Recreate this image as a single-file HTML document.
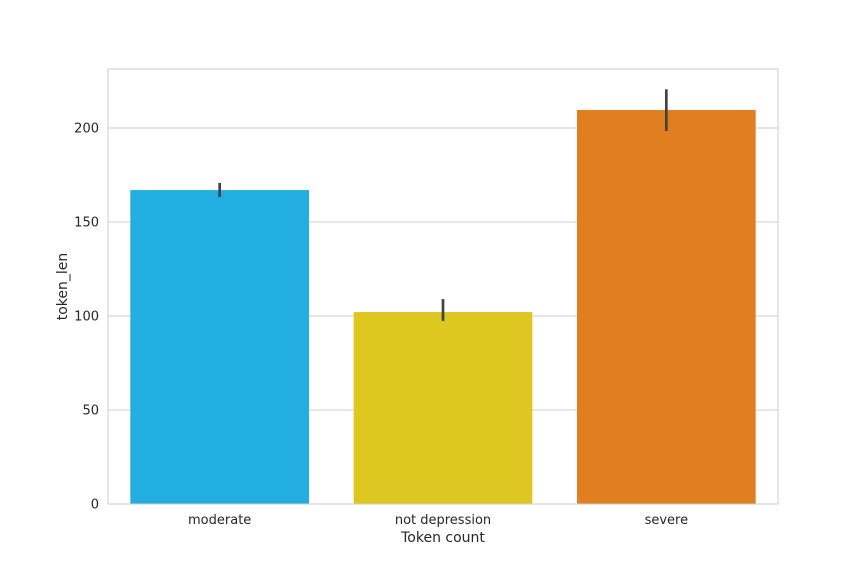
<!DOCTYPE html>
<html><head><meta charset="utf-8"><style>
body{margin:0;background:#fff;}
svg{display:block;font-family:"DejaVu Sans","Liberation Sans",sans-serif;}
</style></head><body>
<svg id="chart" width="864" height="576"></svg>
<script>
const categories=["moderate","not depression","severe"];
const values=[167.0,102.1,209.6];
const errLow=[163.4,97.4,198.5];
const errHigh=[170.8,109.0,220.6];
const yTicks=[0,50,100,150,200];
const colors=["#22aee0","#dfc721","#e07e20"];
const L=108,R=778,T=69,B=504,yMax=231.4;
const ns="http://www.w3.org/2000/svg";
const svg=document.getElementById('chart');
const y=v=>B-(v/yMax)*(B-T);
const band=(R-L)/categories.length;
const xc=i=>L+band*(i+0.5);
function mk(tag,attrs,parent){const e=document.createElementNS(ns,tag);for(const k in attrs)e.setAttribute(k,attrs[k]);(parent||svg).appendChild(e);return e;}
yTicks.forEach(t=>{
  const g=mk('line',{x1:L,x2:R,y1:y(t),y2:y(t),stroke:'#cccccc','stroke-width':1});
  
  
  const tx=mk('text',{x:L-9,y:y(t)+4.5,'text-anchor':'end','font-size':13,fill:'#262626'});
  tx.textContent=t;
  
  
});
categories.forEach((c,i)=>{
  const w=band*0.8;
  const r=mk('rect',{x:xc(i)-w/2,y:y(values[i]),width:w,height:B-y(values[i]),fill:colors[i]});
  
  
  const e=mk('line',{x1:xc(i),x2:xc(i),y1:y(errLow[i]),y2:y(errHigh[i]),stroke:'#424242','stroke-width':2.7});
  
  
  const tx=mk('text',{x:xc(i),y:B+20,'text-anchor':'middle','font-size':13,fill:'#262626'});
  tx.textContent=c;
  
  
});
const fr=mk('rect',{x:L,y:T,width:R-L,height:B-T,fill:'none',stroke:'#cccccc','stroke-width':1});


const xt=mk('text',{x:(L+R)/2,y:542,'text-anchor':'middle','font-size':14,fill:'#262626'});
xt.textContent='Token count';


const yt=mk('text',{x:0,y:0,transform:'translate(67,'+((T+B)/2)+') rotate(-90)','text-anchor':'middle','font-size':14,fill:'#262626'});
yt.textContent='token_len';


</script>
</body></html>
